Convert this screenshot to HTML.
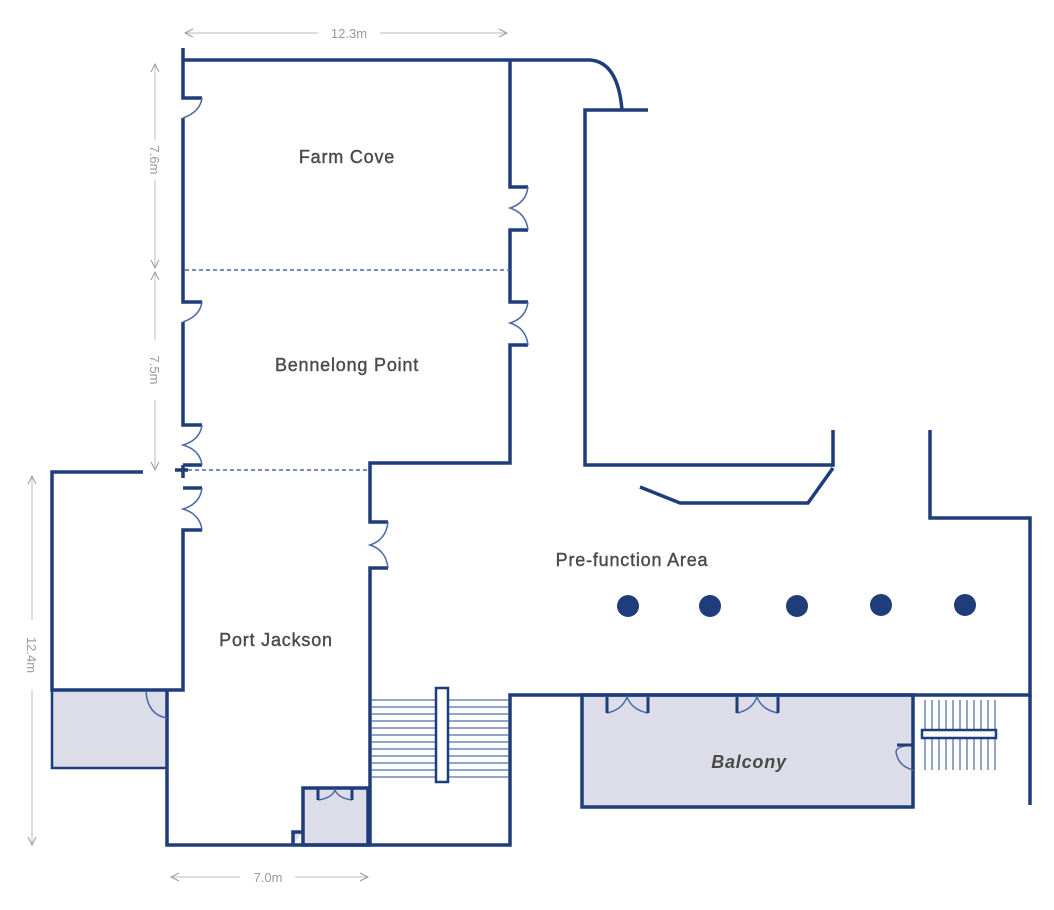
<!DOCTYPE html>
<html><head><meta charset="utf-8"><style>
html,body{margin:0;padding:0;background:#fff;}
svg{display:block;}
text{font-family:"Liberation Sans",sans-serif;}
</style></head><body>
<svg width="1054" height="910" viewBox="0 0 1054 910" xmlns="http://www.w3.org/2000/svg">
<defs>
<marker id="ar" markerWidth="10" markerHeight="10" refX="9" refY="5" orient="auto-start-reverse" markerUnits="userSpaceOnUse">
<path d="M1,1 L9,5 L1,9" fill="none" stroke="#999" stroke-width="1"/>
</marker>
</defs>
<rect x="52" y="690" width="115" height="78" fill="#dcdde9" stroke="#1f3d7a" stroke-width="2.5"/>
<path d="M303,845 V788 H368 V845 Z M293,845 V832 H303" fill="#dcdde9" stroke="#1f3d7a" stroke-width="3.5"/>
<rect x="582" y="695" width="331" height="112" fill="#dcdde9" stroke="#1f3d7a" stroke-width="3.5"/>

<g fill="none" stroke="#1f3d7a" stroke-width="3.5" stroke-linejoin="miter">
<path d="M183,48 V98 H202"/>
<path d="M183,60 H590 Q618,62 622,110"/>
<path d="M183,118 V302 H202"/>
<path d="M183,322 V425 H202"/>
<path d="M175,470 H188"/>
<path d="M183,465 V478"/>
<path d="M183,488 H202"/>
<path d="M202,530 H183 V690 H52 V472 H143"/>
<path d="M202,465 H183"/>
<path d="M510,60 V187 H528"/>
<path d="M528,230 H510 V302 H528"/>
<path d="M528,345 H510 V463 H370 V522 H388"/>
<path d="M388,568 H370 V845 H510 V695 H1030 V518 H930 V430"/>
<path d="M1030,695 V805"/>
<path d="M833,430 V465 H585 V110 H648"/>
<path d="M640,487 L680,503 H808 L833,468"/>
<path d="M167,690 V845 H370"/>
</g>
<g fill="none" stroke="#4a6aa5" stroke-width="1.5">
<path d="M202,98 Q200,112 183,118"/>
<path d="M202,302 Q200,316 183,322"/>
<path d="M202,425 Q200,440 183,445 Q200,450 202,465"/>
<path d="M202,488 Q200,504 183,509 Q200,514 202,530"/>
<path d="M528,187 Q526,203 510,208 Q526,213 528,230"/>
<path d="M528,302 Q526,318 510,323 Q526,328 528,345"/>
<path d="M388,522 Q386,540 370,545 Q386,550 388,568"/>
<path d="M146,692 Q148,715 167,718"/>
<path d="M913,745 Q896,746 896,752 Q898,766 913,770"/>
<path d="M318,800 Q332,798 335,790 Q338,798 352,800"/>
<path d="M607,713 Q622,710 627,697 Q632,710 648,713"/>
<path d="M737,713 Q752,710 757,697 Q762,710 778,713"/>
</g>
<g fill="none" stroke="#1f3d7a" stroke-width="3">
<path d="M607,697 V713 M648,697 V713 M737,697 V713 M778,697 V713"/>
<path d="M318,788 V800 M352,788 V800"/>
<path d="M913,745 H897"/>
</g>
<g stroke="#4a6aa5" stroke-width="1.5" stroke-dasharray="4,3">
<path d="M185,270 H510"/>
<path d="M188,470 H370"/>
</g>
<g stroke="#6d87b8" stroke-width="1.5">
<path d="M372,700 H508 M372,707 H508 M372,714 H508 M372,721 H508 M372,728 H508 M372,735 H508 M372,742 H508 M372,749 H508 M372,756 H508 M372,763 H508 M372,770 H508 M372,777 H508"/>
<path d="M925,700 V770 M932,700 V770 M939,700 V770 M946,700 V770 M953,700 V770 M960,700 V770 M967,700 V770 M974,700 V770 M981,700 V770 M988,700 V770 M995,700 V770"/>
</g>
<rect x="436" y="688" width="12" height="94" fill="#fff" stroke="#1f3d7a" stroke-width="2.5"/>
<rect x="922" y="730" width="74" height="8" fill="#fff" stroke="#1f3d7a" stroke-width="2.5"/>
<g fill="#1f3d7a">
<circle cx="628" cy="606" r="11"/><circle cx="710" cy="606" r="11"/><circle cx="797" cy="606" r="11"/><circle cx="881" cy="605" r="11"/><circle cx="965" cy="605" r="11"/>
</g>
<g fill="#4a4a4a" font-size="18" text-anchor="middle" letter-spacing="0.8" stroke="#4a4a4a" stroke-width="0.4">
<text x="347" y="163">Farm Cove</text>
<text x="347" y="371">Bennelong Point</text>
<text x="276" y="646">Port Jackson</text>
<text x="632" y="566">Pre-function Area</text>
<text x="749" y="768" font-style="italic" font-weight="bold" stroke="none">Balcony</text>
</g>
<g stroke="#bbb" stroke-width="1" fill="none">
<path d="M185,33 H318" marker-start="url(#ar)"/>
<path d="M380,33 H507" marker-end="url(#ar)"/>
<path d="M155,64 V140" marker-start="url(#ar)"/>
<path d="M155,180 V268" marker-end="url(#ar)"/>
<path d="M155,272 V340" marker-start="url(#ar)"/>
<path d="M155,400 V470" marker-end="url(#ar)"/>
<path d="M32,476 V620" marker-start="url(#ar)"/>
<path d="M32,690 V845" marker-end="url(#ar)"/>
<path d="M171,877 H240" marker-start="url(#ar)"/>
<path d="M295,877 H368" marker-end="url(#ar)"/>
</g>
<g fill="#999" font-size="13" text-anchor="middle">
<text x="349" y="38">12.3m</text>
<text x="268" y="882">7.0m</text>
<text transform="translate(150,160) rotate(90)">7.6m</text>
<text transform="translate(150,370) rotate(90)">7.5m</text>
<text transform="translate(27,655) rotate(90)">12.4m</text>
</g>
</svg>
</body></html>
